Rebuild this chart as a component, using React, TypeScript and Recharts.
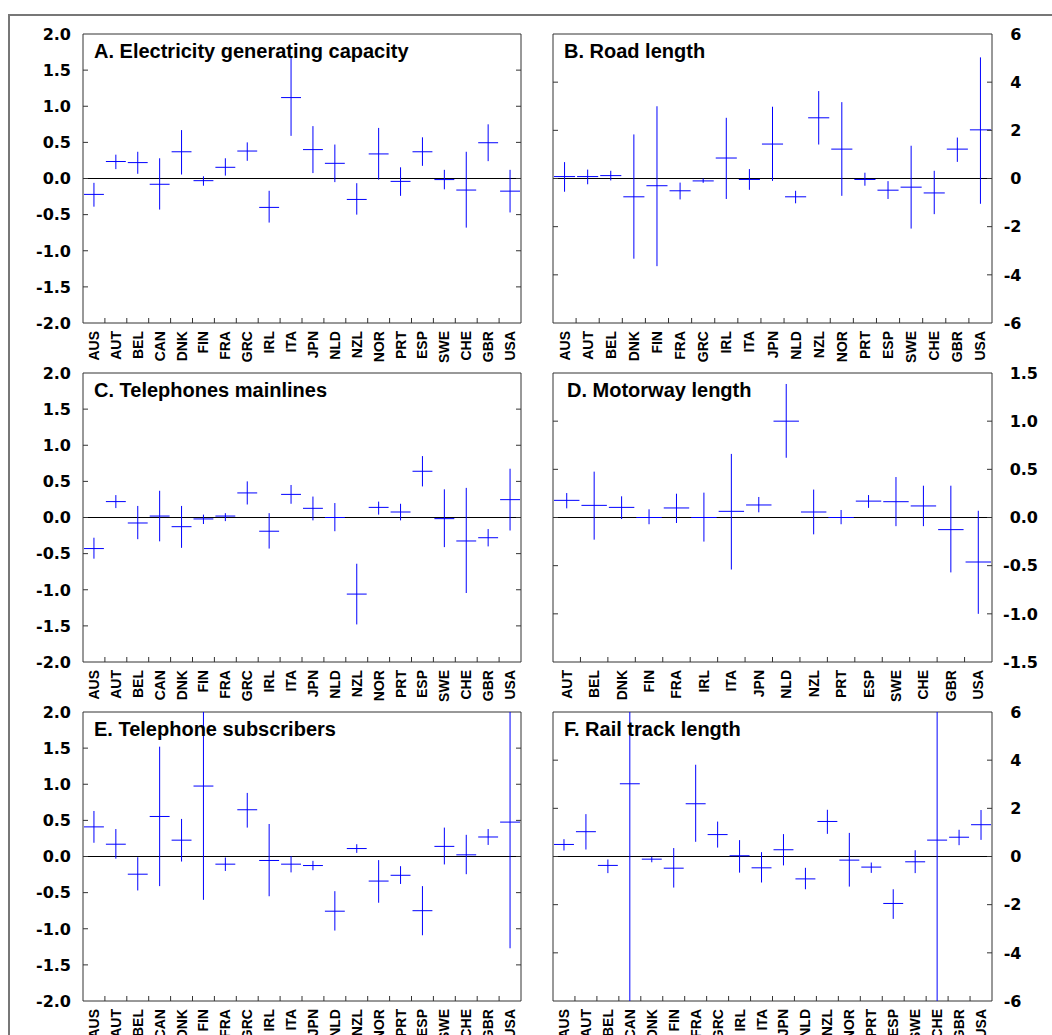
import React from 'react';
import { ScatterChart, Scatter, XAxis, YAxis, ErrorBar, ReferenceLine, ReferenceArea } from 'recharts';

// ---------- categories ----------
const catsAll = ['AUS', 'AUT', 'BEL', 'CAN', 'DNK', 'FIN', 'FRA', 'GRC', 'IRL', 'ITA', 'JPN', 'NLD', 'NZL', 'NOR', 'PRT', 'ESP', 'SWE', 'CHE', 'GBR', 'USA'];
const catsRoad = ['AUS', 'AUT', 'BEL', 'DNK', 'FIN', 'FRA', 'GRC', 'IRL', 'ITA', 'JPN', 'NLD', 'NZL', 'NOR', 'PRT', 'ESP', 'SWE', 'CHE', 'GBR', 'USA'];
const catsMotorway = ['AUT', 'BEL', 'DNK', 'FIN', 'FRA', 'IRL', 'ITA', 'JPN', 'NLD', 'NZL', 'PRT', 'ESP', 'SWE', 'CHE', 'GBR', 'USA'];

// ---------- A. Electricity generating capacity ----------
const elecEst = [-0.22, 0.235, 0.22, -0.08, 0.37, -0.03, 0.155, 0.38, -0.40, 1.12, 0.40, 0.21, -0.29, 0.34, -0.04, 0.37, -0.015, -0.16, 0.495, -0.175];
const elecLo = [-0.39, 0.13, 0.065, -0.43, 0.055, -0.10, 0.04, 0.245, -0.61, 0.59, 0.075, -0.05, -0.50, -0.015, -0.24, 0.175, -0.15, -0.68, 0.24, -0.47];
const elecHi = [-0.06, 0.33, 0.37, 0.28, 0.67, 0.03, 0.28, 0.50, -0.17, 1.67, 0.725, 0.47, -0.065, 0.70, 0.155, 0.57, 0.12, 0.37, 0.75, 0.12];

// ---------- B. Road length ----------
const roadEst = [0.08, 0.08, 0.12, -0.76, -0.30, -0.51, -0.10, 0.85, -0.04, 1.43, -0.76, 2.52, 1.22, -0.04, -0.485, -0.36, -0.60, 1.22, 2.02];
const roadLo = [-0.55, -0.24, -0.08, -3.33, -3.64, -0.87, -0.18, -0.85, -0.47, -0.10, -1.03, 1.41, -0.72, -0.30, -0.85, -2.08, -1.48, 0.69, -1.05];
const roadHi = [0.68, 0.37, 0.32, 1.83, 3.0, -0.17, 0.0, 2.52, 0.39, 2.98, -0.51, 3.63, 3.17, 0.24, -0.11, 1.36, 0.32, 1.70, 5.03];

// ---------- C. Telephones mainlines ----------
const mainEst = [-0.43, 0.22, -0.076, 0.02, -0.127, -0.02, 0.02, 0.34, -0.19, 0.32, 0.127, 0.0, -1.06, 0.14, 0.076, 0.64, -0.016, -0.325, -0.28, 0.247];
const mainLo = [-0.57, 0.13, -0.30, -0.33, -0.42, -0.09, -0.05, 0.18, -0.43, 0.19, -0.04, -0.19, -1.48, 0.04, -0.04, 0.43, -0.41, -1.045, -0.40, -0.18];
const mainHi = [-0.28, 0.31, 0.16, 0.37, 0.16, 0.04, 0.06, 0.50, 0.06, 0.45, 0.29, 0.20, -0.64, 0.22, 0.19, 0.85, 0.39, 0.41, -0.16, 0.675];

// ---------- D. Motorway length ----------
const motorEst = [0.178, 0.126, 0.105, 0.0, 0.099, 0.0, 0.064, 0.13, 1.0, 0.057, 0.0, 0.17, 0.164, 0.12, -0.126, -0.462];
const motorLo = [0.095, -0.23, -0.016, -0.07, -0.057, -0.25, -0.54, 0.054, 0.62, -0.175, -0.07, 0.10, -0.09, -0.09, -0.57, -1.0];
const motorHi = [0.254, 0.476, 0.22, 0.085, 0.247, 0.258, 0.66, 0.213, 1.386, 0.29, 0.078, 0.233, 0.42, 0.33, 0.33, 0.07];

// ---------- E. Telephone subscribers ----------
const subsEst = [0.41, 0.17, -0.245, 0.554, 0.226, 0.975, -0.106, 0.647, -0.055, -0.106, -0.125, -0.757, 0.11, -0.34, -0.26, -0.75, 0.14, 0.023, 0.27, 0.476];
const subsLo = [0.19, -0.03, -0.47, -0.41, -0.07, -0.60, -0.20, 0.40, -0.55, -0.22, -0.19, -1.025, 0.05, -0.64, -0.38, -1.09, -0.11, -0.245, 0.16, -1.27];
const subsHi = [0.63, 0.38, -0.01, 1.52, 0.52, 2.0, -0.014, 0.88, 0.45, 0.005, -0.06, -0.48, 0.17, -0.05, -0.134, -0.41, 0.40, 0.30, 0.38, 2.0];

// ---------- F. Rail track length ----------
const railEst = [0.5, 1.03, -0.37, 3.02, -0.11, -0.485, 2.19, 0.91, 0.03, -0.47, 0.28, -0.93, 1.455, -0.15, -0.44, -1.95, -0.22, 0.68, 0.80, 1.32];
const railLo = [0.25, 0.29, -0.69, -6, -0.24, -1.29, 0.61, 0.37, -0.67, -1.08, -0.37, -1.36, 0.94, -1.25, -0.68, -2.59, -0.69, -6, 0.47, 0.69];
const railHi = [0.72, 1.76, -0.125, 6, -0.01, 0.35, 3.81, 1.45, 0.68, 0.18, 0.93, -0.47, 1.94, 0.98, -0.25, -1.36, 0.26, 6, 1.11, 1.93];

// ---------- axis ticks ----------
const ticks2 = [-2, -1.5, -1, -0.5, 0, 0.5, 1, 1.5, 2];
const ticks6 = [-6, -4, -2, 0, 2, 4, 6];
const ticks15 = [-1.5, -1, -0.5, 0, 0.5, 1, 1.5];

const BLUE = '#0000ff';
const FRAME = '#333333';
const TICK_FONT = "'DejaVu Sans', Verdana, sans-serif";
const LABEL_FONT = "'Liberation Sans', Arial, Helvetica, sans-serif";

type PanelDef = {
  title: string;
  cats: string[];
  est: number[];
  lo: number[];
  hi: number[];
  domain: [number, number];
  ticks: number[];
  decimals: number;
  side: 'left' | 'right';
  plotTop: number;
  titleDx: number;
  labelBox: number;
};

const CHART_H = 349;

function Panel({ def }: { def: PanelDef }) {
  const rows = def.cats.map((c, i) => ({
    cat: c,
    v: def.est[i],
    err: [def.est[i] - def.lo[i], def.hi[i] - def.est[i]],
  }));
  const isLeft = def.side === 'left';
  const chartLeft = isLeft ? 0 : 530;
  const width = isLeft ? 530 : 522;
  const plotL = isLeft ? 83 : 553;
  const plotR = isLeft ? 521 : 992;
  const localL = plotL - chartLeft;
  const localR = plotR - chartLeft;
  const bw = (plotR - plotL) / def.cats.length;
  const margin = isLeft
    ? { top: 20, left: 13, right: 9, bottom: 0 }
    : { top: 20, left: 23, right: 10, bottom: 0 };

  const XTick = (props: any) => {
    const { x, y, payload, index } = props;
    const axisY = y - 8;
    const bx = x - bw / 2;
    return (
      <g>
        {index > 0 && <line x1={bx} x2={bx} y1={axisY} y2={axisY - 5} stroke={FRAME} strokeWidth={1} />}
        <text
          x={x}
          y={y}
          transform={`rotate(-90 ${x} ${y})`}
          textAnchor="end"
          dy={5}
          fontFamily={LABEL_FONT}
          fontSize={14}
          fontWeight="bold"
          fill="#000"
        >
          {payload.value}
        </text>
      </g>
    );
  };

  const YTick = (props: any) => {
    const { x, y, payload, index } = props;
    const label = Number(payload.value).toFixed(def.decimals);
    const last = def.ticks.length - 1;
    const tx = isLeft ? x : x + def.labelBox;
    return (
      <g>
        {index > 0 && index < last && (
          <>
            <line x1={localL} x2={localL + 5} y1={y} y2={y} stroke={FRAME} strokeWidth={1} />
            <line x1={localR - 5} x2={localR} y1={y} y2={y} stroke={FRAME} strokeWidth={1} />
          </>
        )}
        <text
          x={tx}
          y={y}
          dy="0.36em"
          textAnchor="end"
          fontFamily={TICK_FONT}
          fontSize={16}
          fontWeight="bold"
          fill="#000"
        >
          {label}
        </text>
      </g>
    );
  };

  const Mark = (p: any) => (
    <line x1={p.cx - bw / 2 + 1} x2={p.cx + bw / 2 - 1} y1={p.cy} y2={p.cy} stroke={BLUE} strokeWidth={1} />
  );

  return (
    <>
      <div style={{ position: 'absolute', left: chartLeft, top: def.plotTop - 20, width, height: CHART_H }}>
        <ScatterChart width={width} height={CHART_H} margin={margin}>
          <XAxis
            dataKey="cat"
            type="category"
            scale="band"
            allowDuplicatedCategory={false}
            interval={0}
            tickSize={0}
            tickMargin={8}
            tickLine={false}
            axisLine={false}
            height={40}
            tick={<XTick />}
          />
          <YAxis
            dataKey="v"
            type="number"
            orientation={isLeft ? 'left' : 'right'}
            width={isLeft ? 70 : 50}
            domain={def.domain}
            ticks={def.ticks}
            allowDataOverflow
            interval={0}
            tickSize={0}
            tickMargin={isLeft ? 12 : 11}
            tickLine={false}
            axisLine={false}
            tick={<YTick />}
          />
          <ReferenceArea
            x1={def.cats[0]}
            x2={def.cats[def.cats.length - 1]}
            y1={def.domain[0]}
            y2={def.domain[1]}
            fill="none"
            fillOpacity={0}
            stroke={FRAME}
            strokeWidth={1}
            strokeOpacity={1}
            ifOverflow="visible"
          />
          <ReferenceLine y={0} stroke="#000" strokeWidth={1} />
          <Scatter data={rows} dataKey="v" shape={<Mark />} isAnimationActive={false}>
            <ErrorBar dataKey="err" direction="y" width={0} stroke={BLUE} strokeWidth={1} isAnimationActive={false} />
          </Scatter>
        </ScatterChart>
      </div>
      <div
        style={{
          position: 'absolute',
          left: plotL + def.titleDx,
          top: def.plotTop + 7,
          fontFamily: LABEL_FONT,
          fontWeight: 'bold',
          fontSize: 20,
          lineHeight: '20px',
          whiteSpace: 'nowrap',
          color: '#000',
        }}
      >
        {def.title}
      </div>
    </>
  );
}

const panels: PanelDef[] = [
  { title: 'A. Electricity generating capacity', cats: catsAll, est: elecEst, lo: elecLo, hi: elecHi, domain: [-2, 2], ticks: ticks2, decimals: 1, side: 'left', plotTop: 34, titleDx: 11, labelBox: 0 },
  { title: 'B. Road length', cats: catsRoad, est: roadEst, lo: roadLo, hi: roadHi, domain: [-6, 6], ticks: ticks6, decimals: 0, side: 'right', plotTop: 34, titleDx: 11, labelBox: 18.5 },
  { title: 'C. Telephones mainlines', cats: catsAll, est: mainEst, lo: mainLo, hi: mainHi, domain: [-2, 2], ticks: ticks2, decimals: 1, side: 'left', plotTop: 373, titleDx: 11, labelBox: 0 },
  { title: 'D. Motorway length', cats: catsMotorway, est: motorEst, lo: motorLo, hi: motorHi, domain: [-1.5, 1.5], ticks: ticks15, decimals: 1, side: 'right', plotTop: 373, titleDx: 14, labelBox: 35 },
  { title: 'E. Telephone subscribers', cats: catsAll, est: subsEst, lo: subsLo, hi: subsHi, domain: [-2, 2], ticks: ticks2, decimals: 1, side: 'left', plotTop: 712, titleDx: 11, labelBox: 0 },
  { title: 'F. Rail track length', cats: catsAll, est: railEst, lo: railLo, hi: railHi, domain: [-6, 6], ticks: ticks6, decimals: 0, side: 'right', plotTop: 712, titleDx: 11, labelBox: 18.5 },
];

export default function App() {
  return (
    <div
      style={{
        position: 'absolute',
        left: 0,
        top: 0,
        width: 1052,
        height: 1035,
        overflow: 'hidden',
        background: '#fff',
      }}
    >
      <div
        style={{
          position: 'absolute',
          left: 8,
          top: 14,
          width: 1200,
          height: 1200,
          borderLeft: '2px solid #777',
          borderTop: '2px solid #777',
        }}
      />
      {panels.map((p) => (
        <Panel key={p.title} def={p} />
      ))}
    </div>
  );
}
